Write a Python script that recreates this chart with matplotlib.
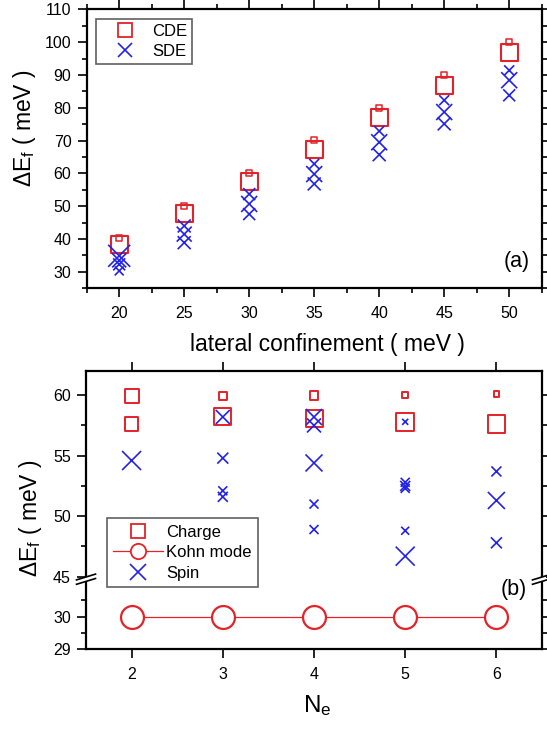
import matplotlib
matplotlib.use('Agg')
import matplotlib.pyplot as plt
from matplotlib.ticker import MultipleLocator, FixedLocator
from matplotlib.lines import Line2D
from matplotlib.patches import Polygon

plt.rcParams['font.family'] = ['Liberation Sans', 'DejaVu Sans']
plt.rcParams['mathtext.fontset'] = 'custom'
plt.rcParams['mathtext.rm'] = 'Liberation Sans'
plt.rcParams['mathtext.it'] = 'Liberation Sans:italic'
plt.rcParams['mathtext.bf'] = 'Liberation Sans:bold'

RED = '#e3232a'
BLUE = '#2323e6'

# ---------------- panel (a) data ----------------
conf = [20, 25, 30, 35, 40, 45, 50]
cde_high = [40.2, 50.1, 60.1, 70.1, 80.0, 90.1, 100.1]
cde_high_strength = [6, 6, 6, 6, 6, 6, 6]
cde_low = [38.3, 47.9, 57.4, 67.3, 77.1, 86.9, 96.8]
cde_low_strength = [17, 17, 17, 17, 17, 17, 17]

sde_conf = [20, 20, 20, 20,
            25, 25, 25,
            30, 30, 30,
            35, 35, 35,
            40, 40, 40,
            45, 45, 45,
            50, 50, 50]
sde_e = [34.9, 33.5, 32.3, 30.3,
         44.0, 41.5, 38.9,
         53.7, 50.7, 47.6,
         62.9, 59.8, 56.8,
         72.9, 69.5, 65.7,
         82.3, 78.7, 75.1,
         91.4, 88.4, 83.8]
sde_strength = [22, 14, 12, 9,
                13, 15, 13,
                12, 16, 12,
                10, 16, 13,
                10, 16, 13,
                10, 16, 13,
                10, 16, 12]

# ---------------- panel (b) data ----------------
charge_ne = [2, 2, 3, 3, 4, 4, 5, 5, 6, 6]
charge_e = [59.9, 57.6, 59.95, 58.2, 59.95, 58.1, 60.0, 57.8, 60.1, 57.6]
charge_strength = [14, 13.5, 8.3, 17, 8.7, 17, 6, 17.7, 5.7, 17.7]

spin_ne = [2,
           3, 3, 3, 3,
           4, 4, 4, 4, 4,
           5, 5, 5, 5, 5, 5,
           6, 6, 6]
spin_e = [54.6,
          58.2, 54.8, 52.1, 51.6,
          58.2, 57.5, 54.4, 51.0, 48.9,
          57.8, 52.8, 52.5, 52.3, 48.8, 46.7,
          53.7, 51.3, 47.8]
spin_strength = [19,
                 14, 11, 9, 10,
                 16, 14, 17, 9, 9,
                 6, 9, 10, 9, 8, 19,
                 10, 17, 11]

kohn_ne = [2, 3, 4, 5, 6]
kohn_e = [30.0, 30.0, 30.0, 30.0, 30.0]

xticks_a = [20, 25, 30, 35, 40, 45, 50]
yticks_a = [30, 40, 50, 60, 70, 80, 90, 100, 110]
xticks_b = [2, 3, 4, 5, 6]
yticks_b_up = [45, 50, 55, 60]
yticks_b_low = [29, 30]

# ---------------- figure ----------------
W, H = 547, 729
fig = plt.figure(figsize=(W / 100, H / 100), dpi=100)


def fx(x):
    return x / W


def fy(y):
    return 1 - y / H


PX2PT = 0.72
TICK_FS = 11.5
LABEL_FS = 16.5


def style_axes(ax):
    for s in ax.spines.values():
        s.set_linewidth(1.6)
    ax.tick_params(which='both', direction='out', width=1.2,
                   labelsize=TICK_FS, pad=4.5)
    ax.tick_params(which='major', length=6.5)
    ax.tick_params(which='minor', length=3.6)


# panel (a)
axA = fig.add_axes([fx(86.7), fy(288.3), fx(541.7 - 86.7), (288.3 - 9.3) / H])
style_axes(axA)
axA.set_xlim(17.5, 52.5)
axA.set_ylim(25, 110)
axA.xaxis.set_major_locator(FixedLocator(xticks_a))
axA.xaxis.set_minor_locator(MultipleLocator(2.5))
axA.yaxis.set_major_locator(FixedLocator(yticks_a))
axA.yaxis.set_minor_locator(MultipleLocator(5))
axA.tick_params(which='both', top=True, right=True, labeltop=False, labelright=False)
axA.tick_params(axis='x', pad=6)

axA.scatter(conf, cde_low, s=[(v * PX2PT) ** 2 for v in cde_low_strength],
            marker='s', facecolors='none', edgecolors=RED, linewidths=1.5, zorder=3)
axA.scatter(conf, cde_high, s=[(v * PX2PT) ** 2 for v in cde_high_strength],
            marker='s', facecolors='none', edgecolors=RED, linewidths=1.1, zorder=3)
axA.scatter(sde_conf, sde_e, s=[(v * PX2PT) ** 2 for v in sde_strength],
            marker='x', c=BLUE, linewidths=1.2, zorder=4)

fig.text(fx(327), fy(344), 'lateral confinement ( meV )', ha='center', va='center',
         fontsize=LABEL_FS)
fig.text(fx(24), fy(128), r'ΔE$_\mathrm{f}$ ( meV )', ha='center', va='center',
         rotation=90, fontsize=LABEL_FS)
fig.text(fx(516.7), fy(262), '(a)', ha='center', va='center', fontsize=15.5)

hA = [Line2D([], [], ls='none', marker='s', mfc='none', mec=RED, ms=9.5, mew=1.3),
      Line2D([], [], ls='none', marker='x', color=BLUE, ms=9.5, mew=1.2)]
legA = fig.legend(hA, ['CDE', 'SDE'], loc='upper left',
                  bbox_to_anchor=(fx(95.8), fy(19)), bbox_transform=fig.transFigure,
                  fontsize=12, fancybox=False, edgecolor='#606060', framealpha=1,
                  borderpad=0.3, handlelength=2.87, handletextpad=0.2,
                  labelspacing=0.3, borderaxespad=0)
legA.get_frame().set_linewidth(1.2)

# panel (b): broken axis
yb_top, yb_mid, yb_bot = 371.0, 576.7, 649.3
xb_l, xb_r = 86.0, 542.0
axB = fig.add_axes([fx(xb_l), fy(yb_mid), fx(xb_r - xb_l), (yb_mid - yb_top) / H])
axC = fig.add_axes([fx(xb_l), fy(yb_bot), fx(xb_r - xb_l), (yb_bot - yb_mid) / H])
for ax in (axB, axC):
    style_axes(ax)
    ax.set_xlim(1.5, 6.5)
    ax.xaxis.set_major_locator(FixedLocator(xticks_b))
    ax.set_facecolor('none')

axB.set_ylim(45, 62)
axB.yaxis.set_major_locator(FixedLocator(yticks_b_up))
axB.yaxis.set_minor_locator(MultipleLocator(2.5))
axB.spines['bottom'].set_visible(False)
axB.tick_params(which='both', top=True, bottom=False, labelbottom=False,
                right=True, labelright=False)

axC.set_ylim(29, 31.23)
axC.yaxis.set_major_locator(FixedLocator(yticks_b_low))
axC.yaxis.set_minor_locator(FixedLocator([29.5, 30.5]))
axC.spines['top'].set_visible(False)
axC.tick_params(which='both', top=False, right=True, labelright=False)
axC.tick_params(axis='x', pad=6)

axB.scatter(charge_ne, charge_e, s=[(v * PX2PT) ** 2 for v in charge_strength],
            marker='s', facecolors='none', edgecolors=RED, linewidths=1.4,
            zorder=3, clip_on=False)
axB.scatter(spin_ne, spin_e, s=[(v * PX2PT) ** 2 for v in spin_strength],
            marker='x', c=BLUE, linewidths=1.2, zorder=4, clip_on=False)
axC.plot(kohn_ne, kohn_e, color=RED, lw=0.9, marker='o', ms=16.5,
         mfc='white', mec=RED, mew=1.6, zorder=3)

fig.text(fx(317), fy(706), r'N$_\mathrm{e}$', ha='center', va='center',
         fontsize=LABEL_FS + 1)
fig.text(fx(31), fy(518), r'ΔE$_\mathrm{f}$ ( meV )', ha='center', va='center',
         rotation=90, fontsize=LABEL_FS)
fig.text(fx(514), fy(590), '(b)', ha='center', va='center', fontsize=15.5)

# break marks
for xs in (xb_l, xb_r):
    yc = yb_mid + 2.5
    dx, dy, gap = 9.5, 2.9, 2.2
    slope = dy / dx
    poly = Polygon([(fx(xs - 4), fy(yc - gap + 4 * slope)),
                    (fx(xs + 4), fy(yc - gap - 4 * slope)),
                    (fx(xs + 4), fy(yc + gap - 4 * slope)),
                    (fx(xs - 4), fy(yc + gap + 4 * slope))],
                   closed=True, transform=fig.transFigure, facecolor='white',
                   edgecolor='none', zorder=10)
    fig.add_artist(poly)
    for off in (-gap, gap):
        fig.add_artist(Line2D([fx(xs - dx), fx(xs + dx)],
                              [fy(yc + off + dy), fy(yc + off - dy)],
                              transform=fig.transFigure, color='black', lw=1.2,
                              zorder=11))

hB = [Line2D([], [], ls='none', marker='s', mfc='none', mec=RED, ms=10, mew=1.3),
      Line2D([], [], color=RED, lw=0.9, marker='o', ms=11, mfc='white', mec=RED, mew=1.3),
      Line2D([], [], ls='none', marker='x', color=BLUE, ms=11, mew=1.2)]
legB = fig.legend(hB, ['Charge', 'Kohn mode', 'Spin'], loc='upper left',
                  bbox_to_anchor=(fx(106.7), fy(518.3)), bbox_transform=fig.transFigure,
                  fontsize=12, fancybox=False, edgecolor='#606060', framealpha=1,
                  borderpad=0.38, handlelength=3.0, handletextpad=0.2,
                  labelspacing=0.33, borderaxespad=0)
legB.get_frame().set_linewidth(1.2)
legB.set_zorder(20)

fig.savefig('out.png', dpi=100)
